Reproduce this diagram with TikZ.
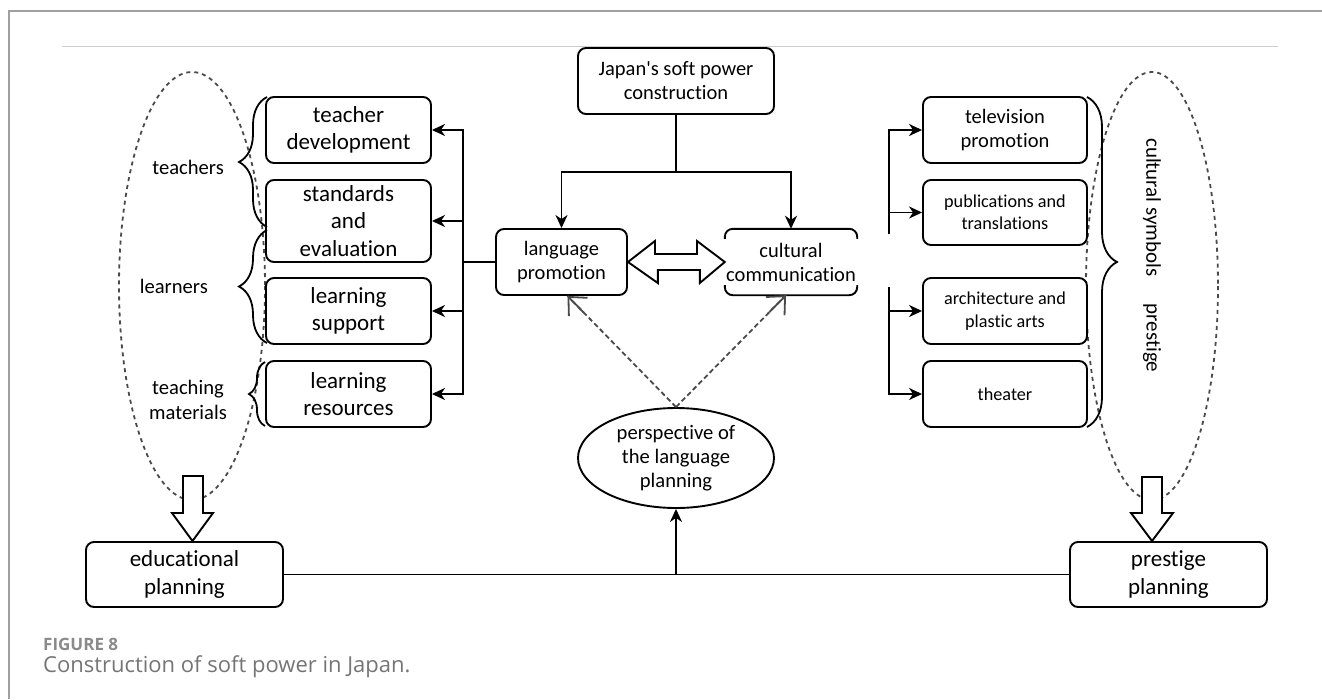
\documentclass[tikz,border=0pt]{standalone}
\usepackage{fontspec}
\setmainfont{Carlito}[Ligatures=NoCommon]
\newfontfamily\capfont{Open Sans}
\usetikzlibrary{arrows.meta,decorations.pathreplacing,shapes.geometric,calc}
\definecolor{dgray}{HTML}{4A4A4A}
\definecolor{capgray}{HTML}{8A8A8A}
\definecolor{framegray}{HTML}{A0A0A0}
\definecolor{rulegray}{HTML}{CCCCCC}
\begin{document}
\begin{tikzpicture}[x=1pt,y=-1pt,
  box/.style={draw,line width=1.9pt,rounded corners=8pt,align=center,inner sep=0pt,fill=white,minimum height=66pt},
  bigf/.style={font=\fontsize{23}{27.5}\selectfont},
  midf/.style={font=\fontsize{20.5}{24}\selectfont},
  smallf/.style={font=\fontsize{18.2}{22.3}\selectfont},
  conn/.style={line width=1.9pt},
  arr/.style={line width=1.9pt,-{Stealth[length=13pt,width=12pt,inset=4pt]}},
  dashline/.style={line width=1.8pt,draw=dgray,dash pattern=on 5pt off 3pt},
  barb/.style={line width=1.8pt,draw=dgray,-{Straight Barb[length=14pt,width=26pt]}},
  dashell/.style={draw=dgray,line width=1.8pt,dash pattern=on 4pt off 4pt},
  bracestyle/.style={decorate,decoration={brace,amplitude=#1},line width=1.8pt},
  blockarrow/.style={draw,line width=1.9pt,fill=white},
  lbl/.style={align=center,inner sep=0pt,font=\fontsize{20.6}{25}\selectfont}]
\useasboundingbox (0,0) rectangle (1322,699);
% frame
\draw[framegray,line width=1.2pt] (9,699) -- (9,11) -- (1322,11);
\draw[rulegray,line width=1pt] (62,46) -- (1278,46);

% dashed ellipses
\draw[dashell] (192,286) ellipse [x radius=73, y radius=214];
\draw[dashell] (1152,286) ellipse [x radius=66, y radius=214];

% nodes
\node[box,midf,minimum width=196pt] (japan) at (676,81) {Japan\textquotesingle s soft power\\construction};
\node[box,bigf,minimum width=165pt] (td) at (348.5,130) {teacher\\development};
\node[box,bigf,minimum width=165pt,minimum height=82pt] (se) at (348.5,221) {standards\\and\\evaluation};
\node[box,bigf,minimum width=165pt] (ls) at (348.5,311) {learning\\support};
\node[box,bigf,minimum width=165pt] (lr) at (348.5,394) {learning\\resources};
\node[box,midf,minimum width=131pt] (lp) at (561.5,262) {language\\promotion};
\node[midf,align=center,inner sep=0pt,minimum width=132pt,minimum height=66pt] (cc) at (791,262) {cultural\\communication};
\node[box,midf,minimum width=164pt] (tv) at (1005,130) {television\\promotion};
\node[box,smallf,minimum width=164pt,minimum height=65pt] (pub) at (1005,212.5) {publications and\\translations};
\node[box,smallf,minimum width=164pt] (arch) at (1005,311) {architecture and\\plastic arts};
\node[box,smallf,minimum width=164pt] (th) at (1005,394) {theater};
\node[draw,ellipse,line width=1.9pt,fill=white,inner sep=0pt,minimum width=196pt,minimum height=100pt,align=center,font=\fontsize{20.6}{24}\selectfont] (persp) at (676,458) {perspective of\\the language\\planning};
\node[box,bigf,minimum width=197pt,minimum height=65pt] (edu) at (184.5,574.5) {educational\\planning};
\node[box,bigf,minimum width=197pt,minimum height=65pt] (pp) at (1168.5,574.5) {prestige\\planning};

% cultural communication box: only top and bottom edges with corners
\draw[conn,rounded corners=8pt] ([yshift=-10pt]cc.north west) -- (cc.north west) -- (cc.north east) -- ([yshift=-10pt]cc.north east);
\draw[conn,rounded corners=8pt] ([yshift=10pt]cc.south west) -- (cc.south west) -- (cc.south east) -- ([yshift=10pt]cc.south east);

% labels
\node[lbl,anchor=east] (lteach) at (224,167) {teachers};
\node[lbl,anchor=east] (llearn) at (208,286) {learners};
\node[lbl] (lmat) at (188,400) {teaching\\materials};
\node[lbl,rotate=-90,font=\fontsize{21}{25}\selectfont] (csym) at (1152,207.5) {cultural symbols};
\node[lbl,rotate=-90,font=\fontsize{21}{25}\selectfont] (cpres) at (1152,338) {prestige};

% braces
\draw[bracestyle=28pt] (267,227) -- (267,97);
\draw[bracestyle=28pt] (267,343) -- (267,230);
\draw[bracestyle=16pt] (265,426) -- (265,362);
\draw[bracestyle=30pt] (1087,97) -- (1087,427);

% top split
\coordinate (jsplit) at (676,172);
\draw[conn] (japan.south) -- (jsplit);
\draw[arr] (jsplit) -| (lp.north);
\draw[arr] (jsplit) -| (cc.north);

% left tree
\coordinate (lbus) at (463,262);
\draw[conn] (lp.west) -- (lbus);
\draw[arr] (lbus) |- (td.east);
\draw[arr] (lbus) |- (se.east);
\draw[arr] (lbus) |- (ls.east);
\draw[arr] (lbus) |- (lr.east);

% right tree
\coordinate (rtop) at (889,234);
\coordinate (rbot) at (889,287);
\draw[arr] (rtop) |- (tv.west);
\draw[arr] (rtop) |- (pub.west);
\draw[arr] (rbot) |- (arch.west);
\draw[arr] (rbot) |- (th.west);

% double block arrow
\draw[blockarrow] (lp.east) -- ++(27,-21) -- ++(0,13) -- ++(42,0) -- ++(0,-13) -- (cc.west) -- ++(-25,21) -- ++(0,-13) -- ++(-42,0) -- ++(0,13) -- cycle;

% dashed arrows
\coordinate (lpin) at ([xshift=6pt]lp.south);
\coordinate (ccin) at ([xshift=-5pt]cc.south);
\draw[dashline] (persp.north) -- (lpin);
\draw[barb] ($(persp.north)!0.85!(lpin)$) -- (lpin);
\draw[dashline] (persp.north) -- (ccin);
\draw[barb] ($(persp.north)!0.85!(ccin)$) -- (ccin);

% bottom
\coordinate (bmid) at (676,574.5);
\draw[conn] (edu.east) -- (pp.west);
\draw[arr] (bmid) -- (persp.south);

% block arrows down
\draw[blockarrow] (183,476) -- (203,476) -- (203,513) -- (213,513) -- (192.5,541) -- (172,513) -- (183,513) -- cycle;
\draw[blockarrow] (1142,477) -- (1162,477) -- (1162,513) -- (1173,513) -- (1152,541) -- (1131,513) -- (1142,513) -- cycle;

% caption
\node[anchor=west,inner sep=0pt,text=capgray,font=\capfont\bfseries\fontsize{17}{19}\selectfont] (fig) at (43,644) {FIGURE 8};
\node[anchor=west,inner sep=0pt,text=capgray!85!black,font=\capfont\fontsize{22}{25}\selectfont] (cap) at (43,667) {Construction of soft power in Japan.};
\end{tikzpicture}
\end{document}
